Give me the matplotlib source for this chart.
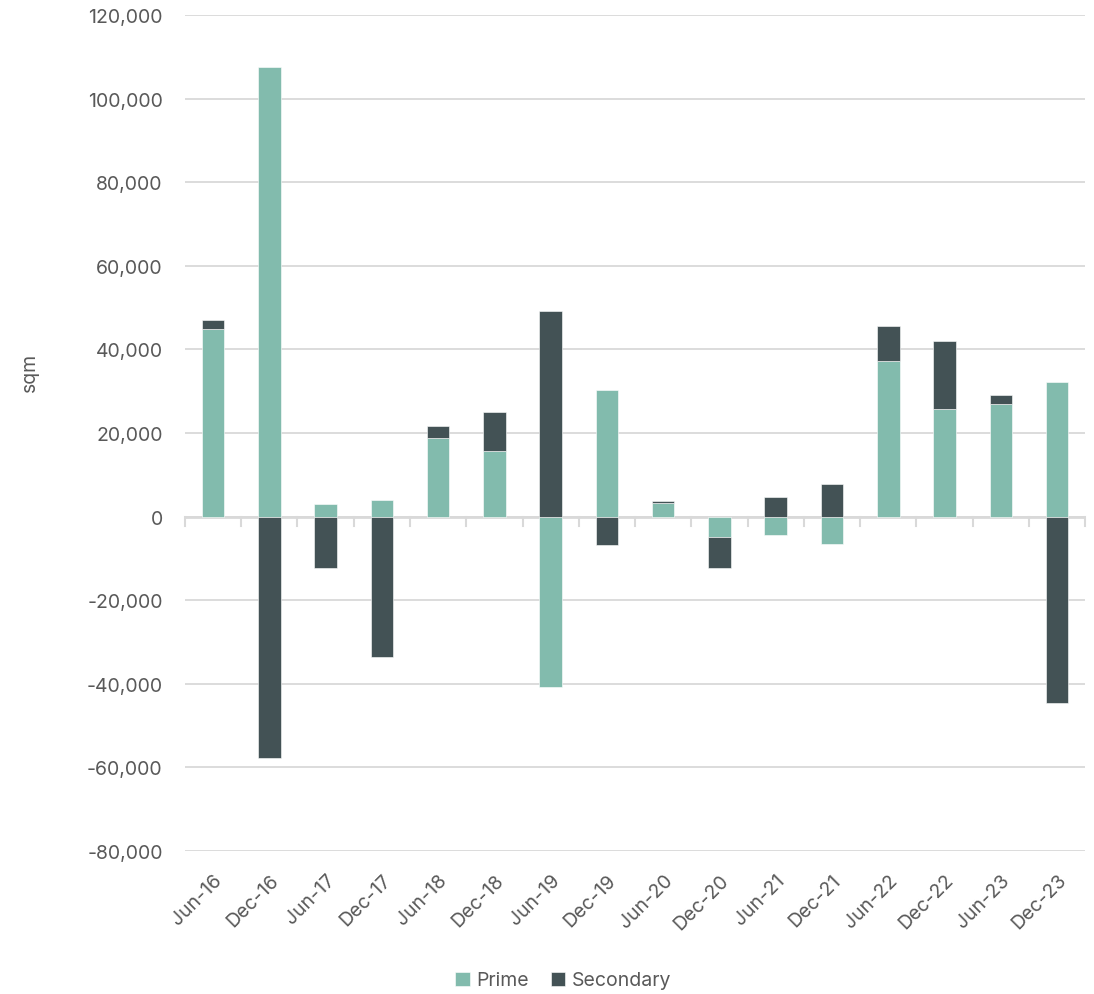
import numpy as np
import matplotlib.pyplot as plt
from matplotlib.ticker import FuncFormatter

plt.rcParams['font.family'] = ['Inter', 'DejaVu Sans']

### data (sqm)
periods = ["Jun-16", "Dec-16", "Jun-17", "Dec-17", "Jun-18", "Dec-18", "Jun-19", "Dec-19",
           "Jun-20", "Dec-20", "Jun-21", "Dec-21", "Jun-22", "Dec-22", "Jun-23", "Dec-23"]
prime = [44800, 107600, 2900, 4000, 18900, 15600, -40700, 30400,
         3300, -4800, -4300, -6500, 37300, 25800, 26900, 32100]
secondary = [2200, -57700, -12400, -33700, 2800, 9500, 49300, -6700,
             500, -7600, 4800, 7700, 8200, 16100, 2300, -44700]

c_prime = '#82bbad'
c_second = '#435255'
c_text = '#595959'
c_grid = '#d9d9d9'

fig = plt.figure(figsize=(10.94, 9.95), dpi=100)
ax = fig.add_axes([0.169, 0.1437, 0.823, 0.8402])

x = np.arange(len(periods))
prime = np.array(prime, dtype=float)
secondary = np.array(secondary, dtype=float)
### stack positive and negative parts separately
bottom_sec = np.where(np.sign(prime) == np.sign(secondary), prime, 0)

w = 0.4
ax.bar(x, prime, width=w, color=c_prime, edgecolor='white', linewidth=0.4, label='Prime', zorder=3)
ax.bar(x, secondary, bottom=bottom_sec, width=w, color=c_second, edgecolor='white', linewidth=0.4,
       label='Secondary', zorder=3)

ax.set_xlim(-0.5, len(periods) - 0.5)
ax.set_ylim(-80000, 120000)
ax.set_yticks(np.arange(-80000, 120001, 20000))
ax.yaxis.set_major_formatter(FuncFormatter(lambda v, p: f"{int(v):,}"))
ax.grid(axis='y', color=c_grid, linewidth=1.3, zorder=0)
ax.axhline(0, color=c_grid, linewidth=2, zorder=2)

for s in ax.spines.values():
    s.set_visible(False)

ax.tick_params(axis='y', length=0, pad=16, labelsize=14, labelcolor=c_text)
ax.set_xticks(x)
ax.set_xticklabels(periods, rotation=45, ha='right', rotation_mode='anchor')
ax.tick_params(axis='x', length=0, pad=14, labelsize=14, labelcolor=c_text)

### small tick marks below zero line between categories
for b in np.arange(-0.5, len(periods), 1.0):
    ax.plot([b, b], [0, -2300], color=c_grid, linewidth=1.5, zorder=2, clip_on=False)

ax.set_ylabel('sqm', fontsize=14, color=c_text)
ax.yaxis.set_label_coords(-0.162, 0.574)

fig.legend(loc='lower center', bbox_to_anchor=(0.515, -0.013), ncol=2, frameon=False,
           fontsize=14, labelcolor=c_text, handlelength=0.75, handleheight=0.75,
           handletextpad=0.35, columnspacing=1.1)

plt.savefig("out.png", dpi=100)
